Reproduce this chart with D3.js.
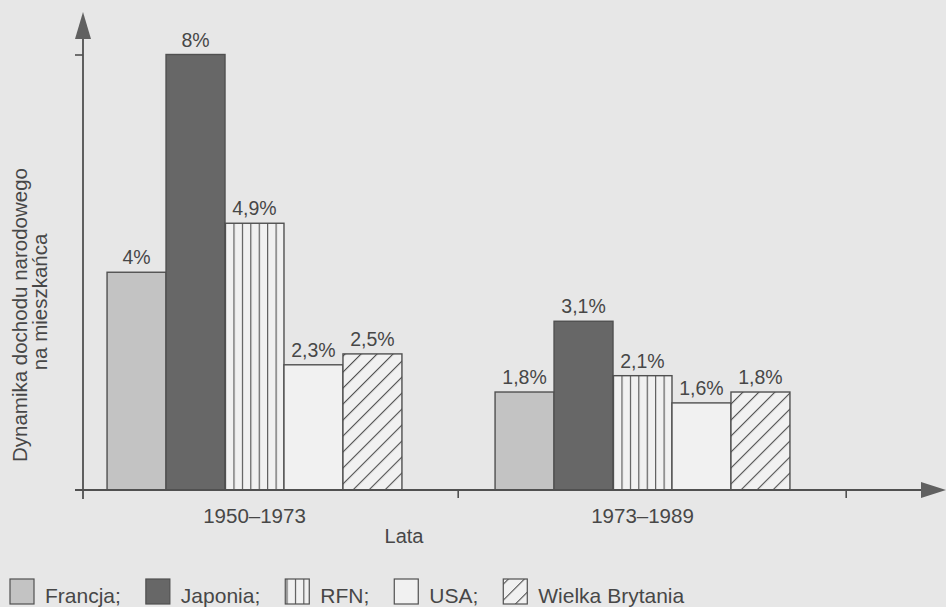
<!DOCTYPE html>
<html>
<head>
<meta charset="utf-8">
<script src="https://cdn.jsdelivr.net/npm/d3@7"></script>
<style>
  body { margin: 0; background: #e7e7e7; }
  svg { display: block; }
  text { font-family: 'Liberation Sans', Arial, sans-serif; fill: #474747; }
</style>
</head>
<body>
<div id="chart"></div>
<script>
const categories = ['1950–1973', '1973–1989']
const series = ['Francja', 'Japonia', 'RFN', 'USA', 'Wielka Brytania']
const values1950 = [4, 8, 4.9, 2.3, 2.5]
const values1973 = [1.8, 3.1, 2.1, 1.6, 1.8]
const yTicks = [8]

const width = 946
const height = 607
const ink = '#505050'

const rows = categories.map((c, i) => ({
  category: c,
  values: series.map((s, j) => ({ series: s, value: [values1950, values1973][i][j] }))
}))

const svg = d3.select('#chart').append('svg')
  .attr('width', width)
  .attr('height', height)

svg.append('rect')
  .attr('width', width)
  .attr('height', height)
  .attr('fill', '#e7e7e7')

const x0 = 83
const y0 = 490

const x = d3.scaleBand()
  .domain(categories)
  .range([x0, 814])
  .paddingInner(0.24)
  .paddingOuter(0.062)

const xs = d3.scaleBand()
  .domain(series)
  .range([0, x.bandwidth()])

const y = d3.scaleLinear()
  .domain([0, 8])
  .range([y0, 54.5])

// patterns for RFN (vertical lines) and UK (diagonal hatch)
const step = xs.bandwidth() / 7
const defs = svg.append('defs')
const vlines = defs.append('pattern')
  .attr('id', 'vlines')
  .attr('patternUnits', 'userSpaceOnUse')
  .attr('width', step).attr('height', 10)
vlines.append('rect').attr('width', step).attr('height', 10).attr('fill', '#f1f1f1')
vlines.append('line').attr('x1', 0).attr('x2', 0).attr('y1', 0).attr('y2', 10)
  .attr('stroke', ink).attr('stroke-width', 2.2)

const hatch = defs.append('pattern')
  .attr('id', 'hatch')
  .attr('patternUnits', 'userSpaceOnUse')
  .attr('width', 11.3).attr('height', 11.3)
  .attr('patternTransform', 'rotate(45)')
hatch.append('rect').attr('width', 11.3).attr('height', 11.3).attr('fill', '#f1f1f1')
hatch.append('line').attr('x1', 0).attr('x2', 0).attr('y1', 0).attr('y2', 11.3)
  .attr('stroke', ink).attr('stroke-width', 2.2)

const fills = d3.scaleOrdinal()
  .domain(series)
  .range(['#c3c3c3', '#676767', 'url(#vlines)', '#f1f1f1', 'url(#hatch)'])

// bars
const groups = svg.append('g')
  .selectAll('g')
  .data(rows)
  .join('g')
  .attr('transform', d => `translate(${x(d.category)},0)`)

groups.selectAll('rect')
  .data(d => d.values)
  .join('rect')
  .attr('x', d => xs(d.series))
  .attr('y', d => y(d.value))
  .attr('width', xs.bandwidth())
  .attr('height', d => y(0) - y(d.value))
  .attr('fill', d => fills(d.series))
  .attr('stroke', ink)
  .attr('stroke-width', 1.4)

groups.selectAll('text')
  .data(d => d.values)
  .join('text')
  .attr('x', d => xs(d.series) + xs.bandwidth() / 2)
  .attr('y', d => y(d.value) - 8)
  .attr('text-anchor', 'middle')
  .attr('font-size', 19.5)
  .text(d => String(d.value).replace('.', ',') + '%')

// category labels and ticks
svg.append('g')
  .selectAll('text')
  .data(categories)
  .join('text')
  .attr('x', d => x(d) + x.bandwidth() / 2)
  .attr('y', 523)
  .attr('text-anchor', 'middle')
  .attr('font-size', 20.5)
  .text(d => d)

svg.append('g')
  .selectAll('line')
  .data(categories)
  .join('line')
  .attr('x1', d => x(d) + x.bandwidth() + x.step() * 0.145)
  .attr('x2', d => x(d) + x.bandwidth() + x.step() * 0.145)
  .attr('y1', y0)
  .attr('y2', y0 + 8)
  .attr('stroke', ink)
  .attr('stroke-width', 1.6)

// y axis tick
const yAxis = svg.append('g')
  .attr('transform', `translate(${x0},0)`)
  .call(d3.axisLeft(y).tickValues(yTicks).tickFormat('').tickSize(8).tickSizeOuter(0))
yAxis.select('.domain').remove()
yAxis.selectAll('line').attr('stroke', ink).attr('stroke-width', 1.6)

// axes with arrows
svg.append('line')
  .attr('x1', x0).attr('x2', x0)
  .attr('y1', 38).attr('y2', y0 + 9)
  .attr('stroke', ink).attr('stroke-width', 1.8)
svg.append('path')
  .attr('d', `M${x0},12 L${x0 - 8},39 L${x0 + 8},39 Z`)
  .attr('fill', '#606060')

svg.append('line')
  .attr('x1', 75).attr('x2', 922)
  .attr('y1', y0).attr('y2', y0)
  .attr('stroke', ink).attr('stroke-width', 1.8)
svg.append('path')
  .attr('d', `M946,${y0} L921,${y0 - 8} L921,${y0 + 8} Z`)
  .attr('fill', '#606060')

// axis titles
svg.append('text')
  .attr('transform', 'translate(27,315) rotate(-90)')
  .attr('text-anchor', 'middle')
  .attr('font-size', 20.5)
  .text('Dynamika dochodu narodowego')
svg.append('text')
  .attr('transform', 'translate(47,302) rotate(-90)')
  .attr('text-anchor', 'middle')
  .attr('font-size', 20.5)
  .text('na mieszkańca')

svg.append('text')
  .attr('x', 404)
  .attr('y', 543)
  .attr('text-anchor', 'middle')
  .attr('font-size', 20)
  .text('Lata')

// legend
const legend = svg.append('g').attr('class', 'legend')
let lx = 10
series.forEach((s, i) => {
  legend.append('rect')
    .attr('x', lx).attr('y', 579)
    .attr('width', 24).attr('height', 25)
    .attr('fill', fills(s))
    .attr('stroke', ink)
    .attr('stroke-width', 1.2)
  const t = legend.append('text')
    .attr('x', lx + 35)
    .attr('y', 603)
    .attr('font-size', 21)
    .text(s + (i < series.length - 1 ? ';' : ''))
  lx += 35 + t.node().getComputedTextLength() + 25
})
</script>
</body>
</html>
